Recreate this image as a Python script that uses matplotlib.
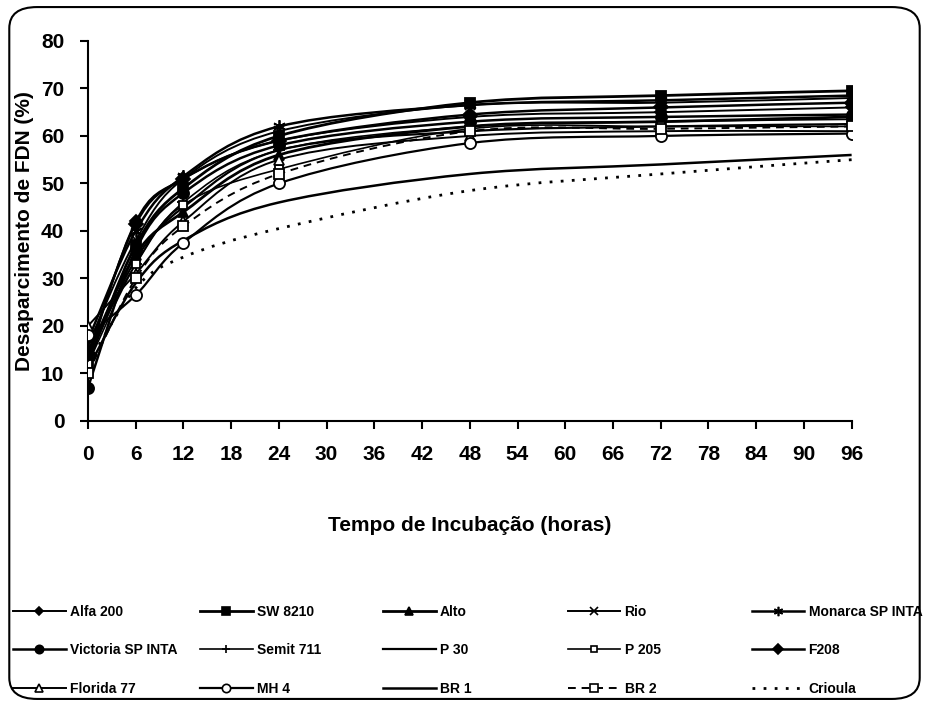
import numpy as np
import matplotlib.pyplot as plt
from matplotlib.path import Path
from matplotlib.patches import PathPatch, FancyBboxPatch
from matplotlib.lines import Line2D

plt.rcParams['font.family'] = ['Liberation Sans', 'DejaVu Sans']
plt.rcParams['font.weight'] = 'bold'

hours = [0, 6, 12, 24, 48, 72, 96]

names = ["Alfa 200", "SW 8210", "Alto", "Rio", "Monarca SP INTA",
         "Victoria SP INTA", "Semit 711", "P 30", "P 205", "F208",
         "Florida 77", "MH 4", "BR 1", "BR 2", "Crioula"]

alfa_200 = [13, 42, 51, 59, 64, 65, 66]
sw_8210 = [12, 37, 49, 60, 67, 68.5, 69.5]
alto = [14, 35, 44, 56, 62, 63, 64]
rio = [16, 38, 51, 61, 66.5, 67, 68]
monarca = [17, 40, 51.5, 62, 66.5, 67.5, 68.5]
victoria = [7, 36, 48, 58, 63, 64, 64.5]
semit_711 = [15, 33, 46, 57, 62, 63, 63.5]
p_30 = [13, 34, 45, 57, 61, 62, 62.5]
p_205 = [12, 33, 45.5, 53, 61.5, 62, 62]
f208 = [14, 41.5, 51, 59, 64.5, 66, 67]
florida_77 = [20, 31, 42, 55, 60, 61, 61]
mh_4 = [18, 26.5, 37.5, 50, 58.5, 60, 60.5]
br_1 = [11, 29, 38, 46, 52, 54, 56]
br_2 = [10, 30, 41, 52, 61, 61.5, 62]
crioula = [12, 28, 34.5, 40.5, 48.5, 52, 55]

values = [alfa_200, sw_8210, alto, rio, monarca, victoria, semit_711, p_30,
          p_205, f208, florida_77, mh_4, br_1, br_2, crioula]

# (marker, filled, linestyle, linewidth, markersize)
styles = [
    ('D', True, '-', 1.4, 6),
    ('s', True, '-', 2.0, 7),
    ('^', True, '-', 2.0, 7),
    ('x', True, '-', 1.4, 7),
    ((6, 2, 0), True, '-', 1.8, 9),
    ('o', True, '-', 1.8, 8),
    ('+', True, '-', 1.2, 8),
    ('_', True, '-', 1.6, 6),
    ('s', False, '-', 1.2, 6),
    ('D', True, '-', 1.8, 7),
    ('^', False, '-', 1.4, 7),
    ('o', False, '-', 1.6, 8),
    (None, True, '-', 1.8, 0),
    ('s', False, (0, (4, 3)), 1.4, 7),
    (None, True, (0, (1, 3)), 2.0, 0),
]


def smooth_path(x, y):
    # Excel style smoothed line: bezier segments through every point
    p = np.column_stack([x, y]).astype(float)
    ext = np.vstack([p[0], p, p[-1]])
    verts = [p[0]]
    codes = [Path.MOVETO]
    for i in range(len(p) - 1):
        p0, p1, p2, p3 = ext[i], ext[i + 1], ext[i + 2], ext[i + 3]
        c1 = p1 + (p2 - p0) / 6.0
        c2 = p2 - (p3 - p1) / 6.0
        verts += [c1, c2, p2]
        codes += [Path.CURVE4] * 3
    return Path(verts, codes)


fig = plt.figure(figsize=(9.29, 7.06), dpi=100)
ax = fig.add_axes([0.0947, 0.4037, 0.822, 0.5383])

handles = []
for name, vals, (mk, filled, ls, lw, ms) in zip(names, values, styles):
    patch = PathPatch(smooth_path(hours, vals), fill=False, edgecolor='black',
                      linewidth=lw, linestyle=ls, zorder=2)
    ax.add_patch(patch)
    if mk is not None:
        ax.plot(hours, vals, linestyle='none', marker=mk, markersize=ms,
                color='black', markerfacecolor='black' if filled else 'white',
                markeredgewidth=1.3, zorder=3)
    handles.append(Line2D([], [], color='black', linestyle=ls, linewidth=lw,
                          marker=mk if mk is not None else None,
                          markersize=ms * 0.75,
                          markerfacecolor='black' if filled else 'white',
                          markeredgewidth=1.2))

ax.set_xlim(0, 96)
ax.set_ylim(0, 80)
ax.set_xticks(np.arange(0, 97, 6))
ax.set_yticks(np.arange(0, 81, 10))
ax.spines['top'].set_visible(False)
ax.spines['right'].set_visible(False)
ax.spines['left'].set_linewidth(1.5)
ax.spines['bottom'].set_linewidth(1.5)
ax.tick_params(direction='out', length=6, width=1.5, labelsize=15, pad=11)
for lab in ax.get_xticklabels() + ax.get_yticklabels():
    lab.set_fontweight('bold')
ax.set_xlabel("Tempo de Incubação (horas)", fontsize=15, fontweight='bold', labelpad=38)
ax.set_ylabel("Desaparcimento de FDN (%)", fontsize=15, fontweight='bold', labelpad=5)

# one legend per column, rows read left to right as in the original
col_x = [0.014, 0.215, 0.412, 0.611, 0.809]
for c in range(5):
    idx = [c, c + 5, c + 10]
    fig.legend([handles[i] for i in idx], [names[i] for i in idx],
               loc='upper left', bbox_to_anchor=(col_x[c], 0.143),
               frameon=False, fontsize=10, handlelength=3.8, handletextpad=0.3,
               labelspacing=1.75, borderaxespad=0, borderpad=0)

border = FancyBboxPatch((0.01, 0.01), 0.98, 0.98, boxstyle="round,pad=0,rounding_size=0.03",
                        transform=fig.transFigure, fill=False, edgecolor='black',
                        linewidth=1.5)
fig.patches.append(border)

fig.savefig("out.png", dpi=100)
